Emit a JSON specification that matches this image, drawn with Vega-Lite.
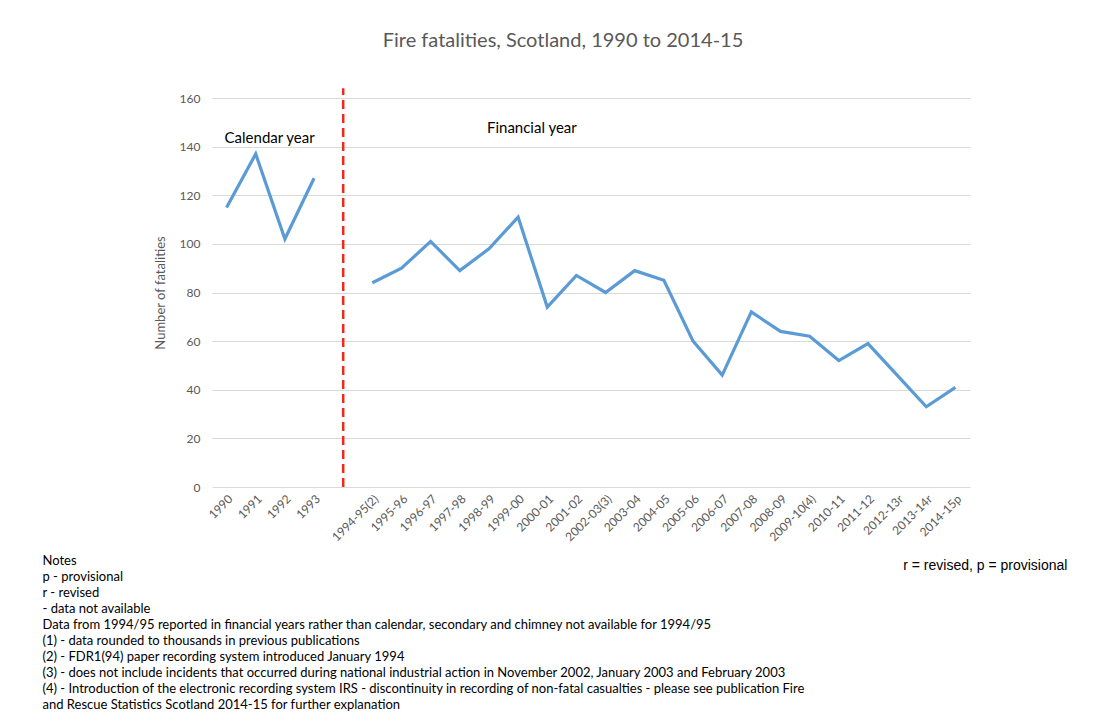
{
  "$schema": "https://vega.github.io/schema/vega-lite/v6.json",
  "width": 758,
  "height": 389,
  "autosize": {"type": "none"},
  "padding": {"left": 212, "top": 98, "right": 128, "bottom": 240},
  "background": "white",
  "title": {
    "text": "Fire fatalities, Scotland, 1990 to 2014-15",
    "font": "Lato",
    "fontSize": 20,
    "fontWeight": "normal",
    "color": "#595959",
    "anchor": "middle",
    "dx": -28,
    "offset": 36
  },
  "datasets": {
    "fat": [
      {"year": "1990", "period": "calendar", "deaths": 115},
      {"year": "1991", "period": "calendar", "deaths": 137},
      {"year": "1992", "period": "calendar", "deaths": 102},
      {"year": "1993", "period": "calendar", "deaths": 127},
      {"year": "1994-95(2)", "period": "financial", "deaths": 84},
      {"year": "1995-96", "period": "financial", "deaths": 90},
      {"year": "1996-97", "period": "financial", "deaths": 101},
      {"year": "1997-98", "period": "financial", "deaths": 89},
      {"year": "1998-99", "period": "financial", "deaths": 98},
      {"year": "1999-00", "period": "financial", "deaths": 111},
      {"year": "2000-01", "period": "financial", "deaths": 74},
      {"year": "2001-02", "period": "financial", "deaths": 87},
      {"year": "2002-03(3)", "period": "financial", "deaths": 80},
      {"year": "2003-04", "period": "financial", "deaths": 89},
      {"year": "2004-05", "period": "financial", "deaths": 85},
      {"year": "2005-06", "period": "financial", "deaths": 60},
      {"year": "2006-07", "period": "financial", "deaths": 46},
      {"year": "2007-08", "period": "financial", "deaths": 72},
      {"year": "2008-09", "period": "financial", "deaths": 64},
      {"year": "2009-10(4)", "period": "financial", "deaths": 62},
      {"year": "2010-11", "period": "financial", "deaths": 52},
      {"year": "2011-12", "period": "financial", "deaths": 59},
      {"year": "2012-13r", "period": "financial", "deaths": 46},
      {"year": "2013-14r", "period": "financial", "deaths": 33},
      {"year": "2014-15p", "period": "financial", "deaths": 41}
    ],
    "labels": [
      {"label": "Calendar year", "year": "1990", "deaths": 143.5},
      {"label": "Financial year", "year": "1998-99", "deaths": 147.5}
    ],
    "divider": [
      {"year": "gap", "from": 0, "to": 164}
    ],
    "key": [
      {"label": "r = revised, p = provisional", "year": "2014-15p", "deaths": -32.5}
    ]
  },
  "layer": [
    {
      "data": {"name": "fat"},
      "mark": {"type": "line", "color": "#5B9BD5", "strokeWidth": 3.2},
      "encoding": {
        "x": {
          "field": "year",
          "type": "ordinal",
          "sort": null,
          "scale": {
            "type": "point",
            "padding": 0.5,
            "domain": ["1990", "1991", "1992", "1993", "gap", "1994-95(2)", "1995-96", "1996-97", "1997-98", "1998-99", "1999-00", "2000-01", "2001-02", "2002-03(3)", "2003-04", "2004-05", "2005-06", "2006-07", "2007-08", "2008-09", "2009-10(4)", "2010-11", "2011-12", "2012-13r", "2013-14r", "2014-15p"]
          },
          "axis": {
            "labelAngle": -45,
            "labelExpr": "datum.label == 'gap' ? '' : datum.label",
            "labelFont": "Lato",
            "labelFontSize": 12,
            "labelColor": "#595959",
            "labelPadding": 6,
            "ticks": false,
            "domain": false,
            "grid": false,
            "title": [
              "Notes",
              "p - provisional",
              "r - revised",
              "\u00a0- data not available",
              "Data from 1994/95 reported in financial years rather than calendar, secondary and chimney not available for 1994/95",
              "(1) - data rounded to thousands in previous publications",
              "(2) - FDR1(94) paper recording system introduced January 1994",
              "(3) - does not include incidents that occurred during national industrial action in November 2002, January 2003 and February 2003",
              "(4) - Introduction of the electronic recording system IRS - discontinuity in recording of non-fatal casualties - please see publication Fire",
              "and Rescue Statistics Scotland 2014-15 for further explanation"
            ],
            "titleFont": "Lato",
            "titleFontSize": 13,
            "titleFontWeight": "normal",
            "titleColor": "#000000",
            "titleAlign": "left",
            "titleBaseline": "top",
            "titleX": -170,
            "titleY": 67,
            "titleLineHeight": 16.1
          }
        },
        "y": {
          "field": "deaths",
          "type": "quantitative",
          "scale": {"domain": [0, 160], "nice": false},
          "axis": {
            "values": [0, 20, 40, 60, 80, 100, 120, 140, 160],
            "title": "Number of fatalities",
            "titleFont": "Lato",
            "titleFontSize": 13,
            "titleFontWeight": "normal",
            "titleColor": "#595959",
            "titlePadding": 12,
            "labelFont": "Lato",
            "labelFontSize": 12,
            "labelColor": "#595959",
            "labelPadding": 12,
            "ticks": false,
            "domain": false,
            "gridColor": "#d9d9d9",
            "gridWidth": 1
          }
        },
        "detail": {"field": "period"}
      }
    },
    {
      "data": {"name": "divider"},
      "mark": {"type": "rule", "color": "#EE2A1B", "strokeWidth": 2.5, "strokeDash": [9, 5]},
      "encoding": {
        "x": {"field": "year", "type": "ordinal"},
        "y": {"field": "from", "type": "quantitative"},
        "y2": {"field": "to"}
      }
    },
    {
      "data": {"name": "labels"},
      "mark": {"type": "text", "font": "Lato", "fontSize": 15, "color": "#000000", "align": "left", "baseline": "middle", "dx": -2},
      "encoding": {
        "x": {"field": "year", "type": "ordinal"},
        "y": {"field": "deaths", "type": "quantitative"},
        "text": {"field": "label"}
      }
    },
    {
      "data": {"name": "key"},
      "mark": {"type": "text", "font": "Liberation Sans", "fontSize": 14, "color": "#000000", "align": "right", "baseline": "middle", "dx": 112, "clip": false},
      "encoding": {
        "x": {"field": "year", "type": "ordinal"},
        "y": {"field": "deaths", "type": "quantitative"},
        "text": {"field": "label"}
      }
    }
  ],
  "config": {"view": {"stroke": null}}
}
